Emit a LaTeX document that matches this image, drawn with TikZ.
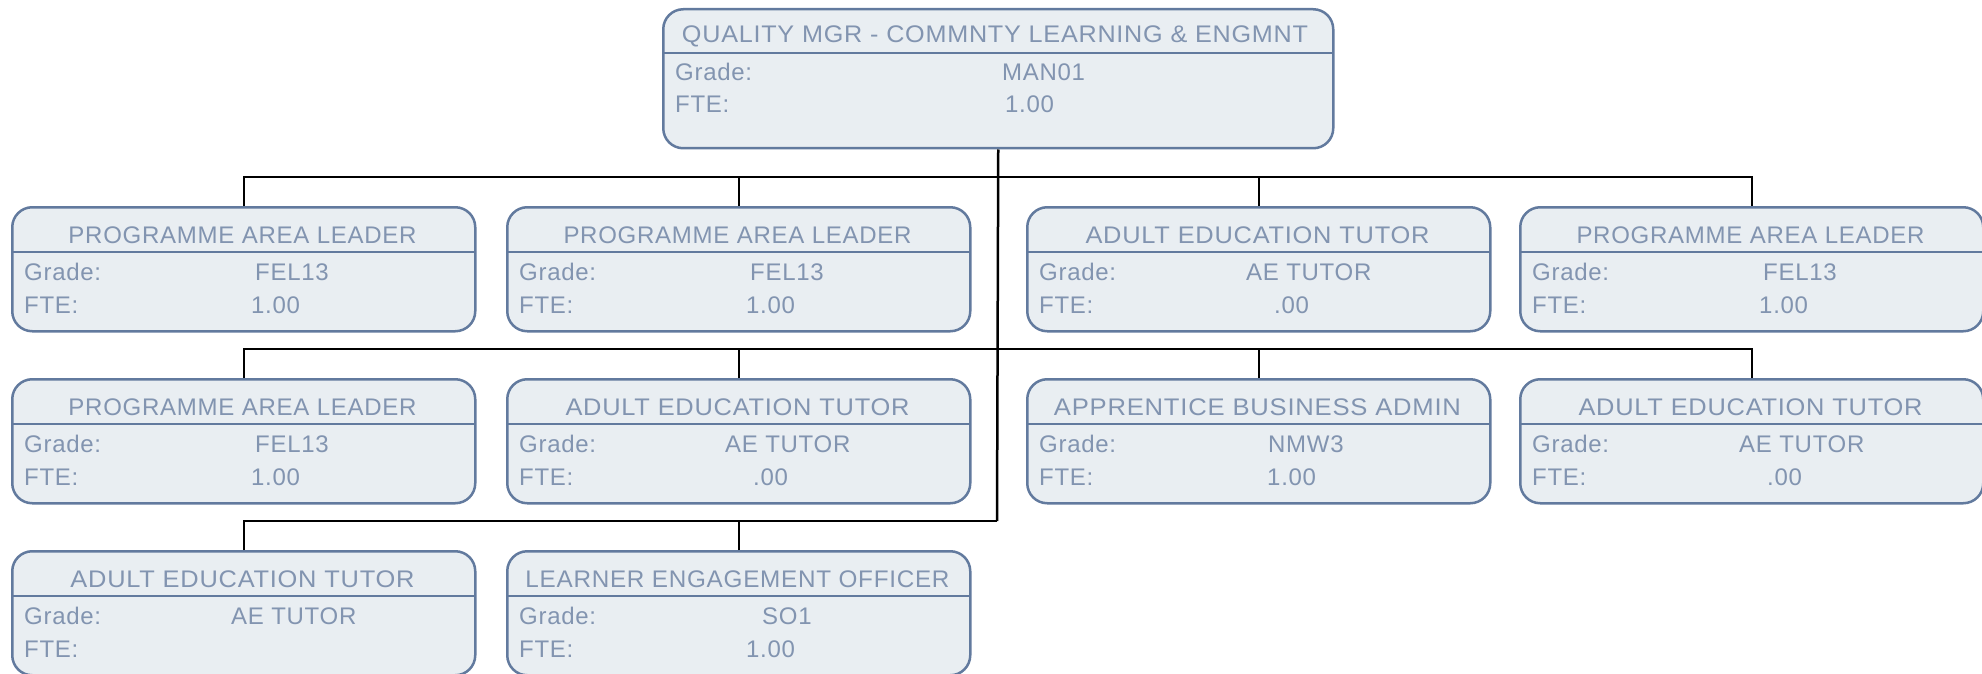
\documentclass[tikz,border=0pt]{standalone}
\usepackage{graphicx}
\usepackage{fontspec}
\setmainfont{Liberation Sans}[LetterSpace=3]
\definecolor{boxfill}{RGB}{233,238,242}
\definecolor{boxline}{RGB}{98,122,158}
\definecolor{boxtext}{RGB}{130,148,176}
% #1 name, #2 x, #3 y, #4 title, #5 title width, #6 grade, #7 grade x, #8 fte, #9 fte x
\newcommand\orgcard[9]{%
  \begin{scope}[shift={(#2,-#3)}]
    \node[card] (#1) at (0,0) {};
    \draw[sepline] (0,-46) -- (463,-46);
    \node[ttl] (#1-t) at (231.5,-37) {\resizebox{#5pt}{\height}{#4}};
    \node[txt] (#1-gl) at (13,-74) {Grade:};
    \node[txt] (#1-gv) at (#7,-74) {#6};
    \node[txt] (#1-fl) at (13,-107) {FTE:};
    \node[txt] (#1-fv) at (#9,-107) {#8};
  \end{scope}}
\begin{document}
\begin{tikzpicture}[x=1pt,y=1pt,
  card/.style={draw=boxline, fill=boxfill, line width=2.5pt, rounded corners=20pt,
    anchor=north west, minimum width=463pt, minimum height=124pt, inner sep=0pt},
  sepline/.style={draw=boxline, line width=2.5pt},
  txt/.style={anchor=base west, inner sep=0pt, text=boxtext, font=\fontsize{24}{28}\selectfont},
  ttl/.style={anchor=base, inner sep=0pt, text=boxtext, font=\fontsize{24}{28}\selectfont},
  link/.style={draw=black, line width=2.5pt}]
\useasboundingbox (0,0) rectangle (1982,-674);

\coordinate (bus1) at (997,-177);
\coordinate (bus2) at (997,-349);
\coordinate (bus3) at (997,-521);

% top box
\begin{scope}[shift={(662,-8)}]
  \node[card, minimum width=670pt, minimum height=139pt] (top) at (0,0) {};
  \draw[sepline] (0,-45) -- (670,-45);
  \node[ttl] (top-t) at (333,-35) {\resizebox{626pt}{\height}{QUALITY MGR - COMMNTY LEARNING \& ENGMNT}};
  \node[txt] (top-gl) at (13,-73) {Grade:};
  \node[txt] (top-gv) at (340,-73) {MAN01};
  \node[txt] (top-fl) at (13,-105) {FTE:};
  \node[txt] (top-fv) at (343,-105) {1.00};
\end{scope}

\orgcard{r1a}{11}{206}{PROGRAMME AREA LEADER}{348}{FEL13}{244}{1.00}{240}
\orgcard{r1b}{506}{206}{PROGRAMME AREA LEADER}{348}{FEL13}{244}{1.00}{240}
\orgcard{r1c}{1026}{206}{ADULT EDUCATION TUTOR}{344}{AE TUTOR}{220}{.00}{248}
\orgcard{r1d}{1519}{206}{PROGRAMME AREA LEADER}{348}{FEL13}{244}{1.00}{240}

\orgcard{r2a}{11}{378}{PROGRAMME AREA LEADER}{348}{FEL13}{244}{1.00}{240}
\orgcard{r2b}{506}{378}{ADULT EDUCATION TUTOR}{344}{AE TUTOR}{219}{.00}{247}
\orgcard{r2c}{1026}{378}{APPRENTICE BUSINESS ADMIN}{407}{NMW3}{242}{1.00}{241}
\orgcard{r2d}{1519}{378}{ADULT EDUCATION TUTOR}{344}{AE TUTOR}{220}{.00}{248}

\orgcard{r3a}{11}{550}{ADULT EDUCATION TUTOR}{344}{AE TUTOR}{220}{}{240}
\orgcard{r3b}{506}{550}{LEARNER ENGAGEMENT OFFICER}{424}{SO1}{256}{1.00}{240}

% trunk
\draw[link] (top.south) -- (bus3);
% row 1
\draw[link] (r1a.north) -- (r1a.north |- bus1) -- (r1d.north |- bus1) -- (r1d.north);
\draw[link] (r1b.north) -- (r1b.north |- bus1);
\draw[link] (r1c.north) -- (r1c.north |- bus1);
% row 2
\draw[link] (r2a.north) -- (r2a.north |- bus2) -- (r2d.north |- bus2) -- (r2d.north);
\draw[link] (r2b.north) -- (r2b.north |- bus2);
\draw[link] (r2c.north) -- (r2c.north |- bus2);
% row 3
\draw[link] (r3a.north) -- (r3a.north |- bus3) -- (bus3);
\draw[link] (r3b.north) -- (r3b.north |- bus3);
\end{tikzpicture}
\end{document}
